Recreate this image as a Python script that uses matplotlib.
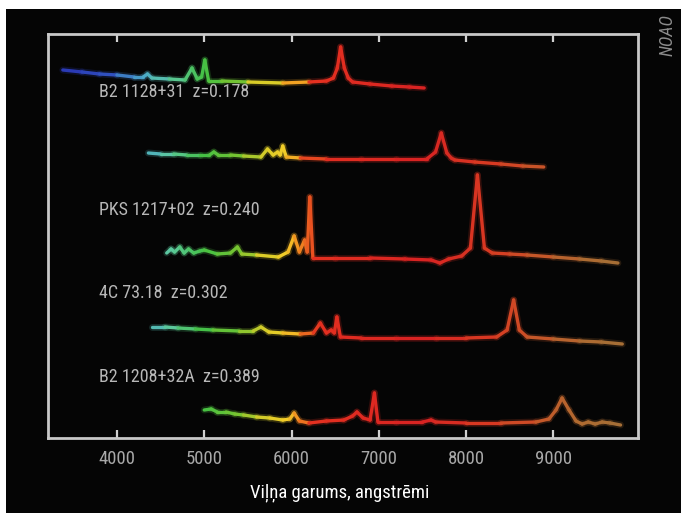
import numpy as np
import matplotlib
matplotlib.use("Agg")
import matplotlib.pyplot as plt
from matplotlib.collections import LineCollection
from matplotlib.colors import LinearSegmentedColormap, Normalize
from matplotlib.patches import Rectangle

plt.rcParams['font.family'] = ['Roboto Condensed', 'Liberation Sans Narrow', 'Roboto', 'DejaVu Sans']

# wavelengths (angstrom) and offset flux for each spectrum
WL_0 = [3380, 3600, 3800, 4000, 4200, 4300, 4350, 4400, 4600, 4780, 4860, 4920, 4970,
        5007, 5050, 5200, 5500, 5900, 6200, 6400, 6480, 6525, 6563, 6605, 6650, 6700,
        6900, 7150, 7350, 7520]
FLUX_0 = [36.8, 36.6, 36.4, 36.3, 36.1, 36.1, 36.4, 36.0, 35.9, 35.8, 37.0, 35.9, 36.1,
          37.8, 35.7, 35.7, 35.6, 35.5, 35.6, 35.7, 36.0, 37.0, 39.1, 37.0, 36.0, 35.6,
          35.4, 35.2, 35.1, 35.0]

WL_1 = [4360, 4500, 4650, 4800, 4950, 5060, 5110, 5160, 5300, 5450, 5650, 5725, 5790,
        5840, 5870, 5900, 5940, 6100, 6400, 6800, 7200, 7550, 7650, 7716, 7780, 7830,
        7870, 8100, 8400, 8650, 8890]
FLUX_1 = [28.5, 28.4, 28.4, 28.3, 28.3, 28.3, 28.6, 28.3, 28.3, 28.2, 28.1, 28.9, 28.3,
          28.6, 28.3, 29.2, 28.1, 28.0, 27.9, 27.9, 27.9, 27.9, 28.6, 30.5, 28.5, 28.0,
          27.8, 27.6, 27.4, 27.2, 27.1]

WL_2 = [4570, 4620, 4660, 4720, 4770, 4820, 4880, 4950, 5000, 5150, 5300, 5380, 5430,
        5600, 5850, 5960, 6030, 6090, 6150, 6180, 6210, 6245, 6500, 6900, 7300, 7600,
        7700, 7800, 7950, 8050, 8130, 8210, 8300, 8500, 8700, 9000, 9300, 9550, 9740]
FLUX_2 = [18.5, 18.9, 18.6, 19.1, 18.5, 18.9, 18.5, 18.7, 18.8, 18.4, 18.5, 19.1, 18.4,
          18.3, 18.1, 18.6, 20.2, 18.6, 19.8, 18.6, 24.1, 18.0, 18.0, 18.0, 17.9, 17.8,
          17.5, 17.9, 18.2, 19.0, 26.3, 19.0, 18.5, 18.4, 18.3, 18.1, 17.9, 17.7, 17.5]

WL_3 = [4400, 4550, 4700, 4900, 5100, 5400, 5560, 5650, 5740, 5900, 6100, 6250, 6330,
        6400, 6455, 6490, 6520, 6560, 6800, 7200, 7650, 8000, 8350, 8470, 8545, 8610,
        8700, 9000, 9300, 9550, 9790]
FLUX_3 = [11.1, 11.1, 11.0, 10.9, 10.8, 10.7, 10.7, 11.1, 10.6, 10.5, 10.4, 10.5, 11.5,
          10.5, 10.8, 10.5, 12.1, 10.1, 10.0, 10.0, 10.0, 10.0, 10.1, 10.8, 13.8, 10.8,
          10.1, 9.9, 9.7, 9.6, 9.4]

WL_4 = [5000, 5080, 5150, 5250, 5350, 5450, 5600, 5750, 5900, 5980, 6030, 6090, 6200,
        6400, 6600, 6700, 6750, 6820, 6900, 6950, 6990, 7200, 7500, 7600, 7650, 8000,
        8400, 8800, 8950, 9030, 9100, 9180, 9260, 9330, 9400, 9480, 9560, 9650, 9770]
FLUX_4 = [2.8, 2.9, 2.6, 2.6, 2.4, 2.3, 2.1, 2.0, 1.8, 1.9, 2.5, 1.7, 1.5,
          1.7, 1.8, 2.2, 2.6, 2.0, 1.8, 4.5, 1.6, 1.6, 1.6, 1.8, 1.6, 1.5,
          1.5, 1.6, 1.9, 2.8, 4.0, 2.8, 1.7, 1.4, 1.6, 1.4, 1.6, 1.5, 1.3]

LABELS = ["B2 1128+31  z=0.178", "PKS 1217+02  z=0.240", "4C 73.18  z=0.302",
          "B2 1208+32A  z=0.389"]
LABEL_Y = [34.6, 22.8, 14.5, 6.1]
TICKS = [4000, 5000, 6000, 7000, 8000, 9000]

# colour of the trace follows the observed wavelength
STOPS = [(3300, '#2830b0'), (3900, '#3050c0'), (4300, '#4aa8c8'), (4600, '#5cc8a0'),
         (5000, '#44c044'), (5400, '#78c430'), (5700, '#d8cc28'), (5950, '#f4cc28'),
         (6100, '#f08820'), (6300, '#e43020'), (7500, '#d82222'), (8300, '#d83a22'),
         (8800, '#c85428'), (9300, '#b06a30'), (9900, '#a07038')]
norm = Normalize(STOPS[0][0], STOPS[-1][0])
cmap = LinearSegmentedColormap.from_list(
    'spec', [(norm(w), c) for w, c in STOPS])


def draw_spectrum(ax, wl, flux):
    wl = np.asarray(wl, dtype=float)
    pts = np.column_stack([wl, flux])
    segs = np.stack([pts[:-1], pts[1:]], axis=1)
    colors = cmap(norm((wl[:-1] + wl[1:]) / 2))
    ax.add_collection(LineCollection(segs, colors=colors, linewidths=5, alpha=0.2,
                                     capstyle='round', joinstyle='round'))
    ax.add_collection(LineCollection(segs, colors=colors, linewidths=2.4,
                                     capstyle='round', joinstyle='round'))


fig = plt.figure(figsize=(6.81, 5.13), dpi=100, facecolor='white')
fig.patches.append(Rectangle((6 / 681, 0), 675 / 681, 504 / 513, transform=fig.transFigure,
                             facecolor='#050505', edgecolor='none', zorder=-10))

ax = fig.add_axes([48 / 681, 75 / 513, 590 / 681, 404 / 513])
ax.set_facecolor('#050505')

for wl, fl in [(WL_0, FLUX_0), (WL_1, FLUX_1), (WL_2, FLUX_2), (WL_3, FLUX_3), (WL_4, FLUX_4)]:
    draw_spectrum(ax, wl, fl)

for text, y in zip(LABELS, LABEL_Y):
    ax.text(3800, y, text, color='#b8b8b8', fontsize=13, va='center', ha='left')

ax.set_xlim(3210, 9970)
ax.set_ylim(0, 40.4)
ax.set_xticks(TICKS)
ax.set_yticks([])
ax.tick_params(axis='x', direction='in', length=6, width=1.6, color='#d0d0d0',
               top=True, labeltop=False, labelcolor='#a8a8a8', labelsize=13.5, pad=9)
for sp in ax.spines.values():
    sp.set_color('#c8c8c8')
    sp.set_linewidth(2)

fig.text(340 / 681, 1 - 493 / 513, "Viļņa garums, angstrēmi", color='white',
         fontsize=13.5, ha='center', va='center')
fig.text(668 / 681, 1 - 35 / 513, "NOAO", color='#8c8c8c', fontsize=13, style='italic',
         rotation=90, ha='center', va='center')

fig.savefig('out.png', dpi=100, facecolor=fig.get_facecolor())
